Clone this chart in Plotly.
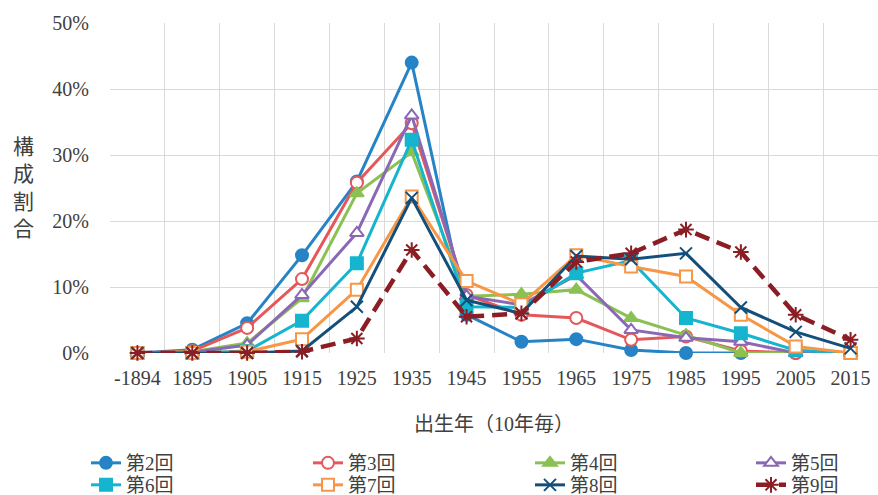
import plotly.graph_objects as go

categories = ["-1894", "1895", "1905", "1915", "1925", "1935", "1945",
              "1955", "1965", "1975", "1985", "1995", "2005", "2015"]

s2 = [0.0, 0.5, 4.5, 14.8, 26.0, 44.0, 5.8, 1.7, 2.1, 0.45, 0.0, 0.0, 0.0, 0.0]
s3 = [0.0, 0.3, 3.8, 11.2, 25.8, 34.8, 8.8, 5.8, 5.3, 2.0, 2.5, 0.3, 0.0, 0.0]
s4 = [0.0, 0.2, 1.5, 8.3, 24.2, 30.4, 8.6, 8.9, 9.6, 5.3, 2.7, 0.0, 0.0, 0.0]
s5 = [0.0, 0.1, 1.2, 8.8, 18.2, 36.0, 8.6, 7.3, 11.8, 3.5, 2.3, 1.7, 0.0, 0.0]
s6 = [0.0, 0.0, 0.3, 4.9, 13.6, 32.3, 7.0, 6.9, 12.1, 14.0, 5.3, 3.0, 0.4, 0.0]
s7 = [0.0, 0.0, 0.2, 2.1, 9.6, 23.7, 10.9, 7.4, 14.8, 13.1, 11.6, 5.8, 1.0, 0.0]
s8 = [0.0, 0.0, 0.0, 0.3, 7.0, 23.5, 8.0, 6.0, 14.7, 14.2, 15.1, 6.9, 3.2, 0.7]
s9 = [0.0, 0.0, 0.0, 0.2, 2.2, 15.6, 5.5, 6.0, 13.8, 15.1, 18.7, 15.3, 5.8, 2.0]

series_names = ["第2回", "第3回", "第4回", "第5回", "第6回", "第7回", "第8回", "第9回"]
series_values = [s2, s3, s4, s5, s6, s7, s8, s9]
y_ticks = [0, 10, 20, 30, 40, 50]
y_tick_labels = ["0%", "10%", "20%", "30%", "40%", "50%"]

styles = [
    dict(color="#2684C6", symbol="circle", mcolor="#2684C6", dash="solid", size=12, lw=3),
    dict(color="#E5585A", symbol="circle", mcolor="white", dash="solid", size=12, lw=3),
    dict(color="#8BC153", symbol="triangle-up", mcolor="#8BC153", dash="solid", size=12, lw=3),
    dict(color="#8A68B5", symbol="triangle-up", mcolor="white", dash="solid", size=12, lw=3),
    dict(color="#15B4CF", symbol="square", mcolor="#15B4CF", dash="solid", size=12, lw=3),
    dict(color="#F79646", symbol="square", mcolor="white", dash="solid", size=12, lw=3),
    dict(color="#134F7A", symbol="x-thin-open", mcolor="#134F7A", dash="solid", size=12, lw=3),
    dict(color="#8B1E24", symbol="asterisk-open", mcolor="#8B1E24", dash="15px,8px", size=13, lw=4.5),
]

x_idx = list(range(len(categories)))
FONT = "Liberation Serif, 'Noto Sans CJK JP', serif"
TXT = "#404040"

W, H = 878, 495
ML, MR, MT, MB = 110, 0, 23, 142
PW = W - ML - MR
col_x = [86, 308, 530, 751]      # legend entry left edges (4 columns)
row_top = [444, 466]             # legend entry tops (2 rows)

fig = go.Figure()
legends = {}
for i, (name, vals, st) in enumerate(zip(series_names, series_values, styles)):
    lg = "legend" if i == 0 else f"legend{i + 1}"
    col, row = i % 4, i // 4
    legends[lg] = dict(
        orientation="v", xref="paper", yref="container",
        x=(col_x[col] - ML) / PW, y=1 - row_top[row] / H,
        xanchor="left", yanchor="top",
        font=dict(size=19, color=TXT), bgcolor="rgba(0,0,0,0)",
    )
    fig.add_trace(go.Scatter(
        x=x_idx, y=vals, name=name, mode="lines+markers", legend=lg,
        line=dict(color=st["color"], width=st["lw"], dash=st["dash"]),
        marker=dict(symbol=st["symbol"], size=st["size"], color=st["mcolor"],
                    line=dict(color=st["color"], width=2)),
        cliponaxis=False,
    ))

grid_col = "#D9D9D9"
fig.update_layout(
    width=W, height=H,
    margin=dict(l=ML, r=MR, t=MT, b=MB),
    plot_bgcolor="white", paper_bgcolor="white",
    font=dict(family=FONT, size=20, color=TXT),
    showlegend=True,
    xaxis=dict(
        range=[-0.5, 13.5],
        tickmode="array", tickvals=x_idx, ticktext=categories,
        showgrid=False, zeroline=False, showline=False,
        ticks="", ticklabelstandoff=11,
        minor=dict(tickmode="array", tickvals=[i - 0.5 for i in x_idx] + [13.5],
                   showgrid=True, gridcolor=grid_col, gridwidth=1.3, ticks=""),
        title=dict(text="出生年（10年毎）", standoff=28, font=dict(size=20, color=TXT)),
        fixedrange=True,
    ),
    yaxis=dict(
        range=[0, 50],
        tickmode="array", tickvals=y_ticks, ticktext=y_tick_labels,
        showgrid=True, gridcolor=grid_col, gridwidth=1.3,
        zeroline=False, showline=False, ticks="", ticklabelstandoff=20,
        fixedrange=True,
    ),
    annotations=[dict(
        text="構<br>成<br>割<br>合", xref="paper", yref="paper",
        x=(23 - ML) / PW, y=(353 - 188) / 330, xanchor="center", yanchor="middle",
        showarrow=False, font=dict(size=21, color=TXT), align="center",
    )],
)
fig.update_layout(**legends)

fig.write_html("out.html", config={"displayModeBar": False},
               post_script="document.body.style.margin='0';")
